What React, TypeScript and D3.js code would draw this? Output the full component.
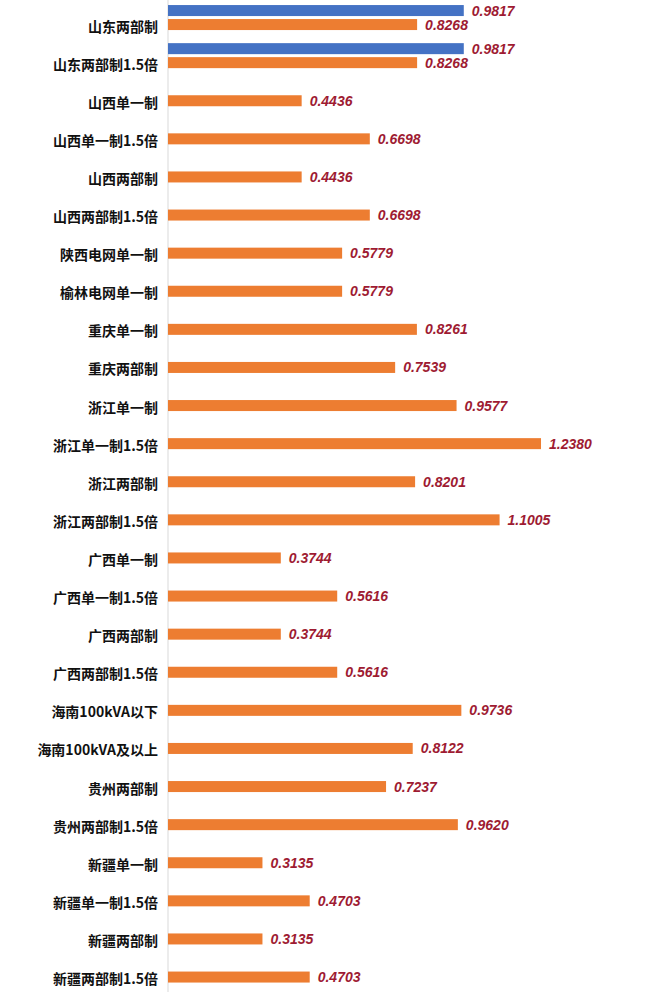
import { scaleBand, scaleLinear, select } from 'd3';
import React, { useEffect, useRef } from 'react';

const categories = [
  '山东两部制',
  '山东两部制1.5倍',
  '山西单一制',
  '山西单一制1.5倍',
  '山西两部制',
  '山西两部制1.5倍',
  '陕西电网单一制',
  '榆林电网单一制',
  '重庆单一制',
  '重庆两部制',
  '浙江单一制',
  '浙江单一制1.5倍',
  '浙江两部制',
  '浙江两部制1.5倍',
  '广西单一制',
  '广西单一制1.5倍',
  '广西两部制',
  '广西两部制1.5倍',
  '海南100kVA以下',
  '海南100kVA及以上',
  '贵州两部制',
  '贵州两部制1.5倍',
  '新疆单一制',
  '新疆单一制1.5倍',
  '新疆两部制',
  '新疆两部制1.5倍',
];

const orangeValues = [
  0.8268, 0.8268, 0.4436, 0.6698, 0.4436, 0.6698, 0.5779, 0.5779, 0.8261,
  0.7539, 0.9577, 1.238, 0.8201, 1.1005, 0.3744, 0.5616, 0.3744, 0.5616,
  0.9736, 0.8122, 0.7237, 0.962, 0.3135, 0.4703, 0.3135, 0.4703,
];

const blueValues: Array<number | null> = [0.9817, 0.9817];

const WIDTH = 663;
const HEIGHT = 992;

const App: React.FC = () => {
  const svgRef = useRef<SVGSVGElement>(null);

  useEffect(() => {
    const svg = select(svgRef.current);

    // Scales
    const xScale = scaleLinear().domain([0, 1.4]).range([168, 168 + 1.4 * 301.3]);
    const yScale = scaleBand<string>()
      .domain(categories)
      .range([5.5, 5.5 + categories.length * 38.1]);
    const barH = 11;
    const centre = (c: string) => (yScale(c) as number) + yScale.bandwidth() / 2;

    // axis line
    svg
      .selectAll('.axis-line')
      .data([0])
      .join('line')
      .attr('class', 'axis-line')
      .attr('x1', xScale(0))
      .attr('x2', xScale(0))
      .attr('y1', 0)
      .attr('y2', HEIGHT)
      .attr('stroke', '#d9d9d9')
      .attr('stroke-width', 1);

    // category labels
    svg
      .selectAll('.cat-label')
      .data(categories)
      .join('text')
      .attr('class', 'cat-label')
      .attr('x', 158)
      .attr('y', (d) => centre(d) + 1)
      .attr('text-anchor', 'end')
      .attr('dominant-baseline', 'central')
      .attr('font-family', '"Noto Sans CJK SC", sans-serif')
      .attr('font-weight', 'bold')
      .attr('font-size', 14)
      .attr('fill', '#111')
      .text((d) => d);

    // orange bars
    const orangeData = categories.map((c, i) => ({ c, v: orangeValues[i] }));
    svg
      .selectAll('.orange-bar')
      .data(orangeData)
      .join('rect')
      .attr('class', 'orange-bar')
      .attr('x', xScale(0))
      .attr('y', (d) => centre(d.c) - barH / 2)
      .attr('width', (d) => xScale(d.v) - xScale(0))
      .attr('height', barH)
      .attr('fill', '#ED7D31');

    // blue bars
    const blueData = blueValues
      .map((v, i) => ({ c: categories[i], v }))
      .filter((d) => d.v != null) as Array<{ c: string; v: number }>;
    svg
      .selectAll('.blue-bar')
      .data(blueData)
      .join('rect')
      .attr('class', 'blue-bar')
      .attr('x', xScale(0))
      .attr('y', (d) => centre(d.c) - 14 - barH / 2)
      .attr('width', (d) => xScale(d.v) - xScale(0))
      .attr('height', barH)
      .attr('fill', '#4472C4');

    // value labels
    const labelData = [
      ...orangeData.map((d) => ({ ...d, dy: 0 })),
      ...blueData.map((d) => ({ ...d, dy: -14 })),
    ];
    svg
      .selectAll('.value-label')
      .data(labelData)
      .join('text')
      .attr('class', 'value-label')
      .attr('x', (d) => xScale(d.v) + 8)
      .attr('y', (d) => centre(d.c) + d.dy)
      .attr('dominant-baseline', 'central')
      .attr('font-family', '"Liberation Sans", Arial, sans-serif')
      .attr('font-style', 'italic')
      .attr('font-weight', 'bold')
      .attr('font-size', 14)
      .attr('fill', '#9E1B32')
      .text((d) => d.v.toFixed(4));
  }, []);

  return (
    <div>
      <style>{'body{margin:0;background:#fff}'}</style>
      <svg ref={svgRef} width={WIDTH} height={HEIGHT} style={{ display: 'block' }} />
    </div>
  );
};

export default App;
